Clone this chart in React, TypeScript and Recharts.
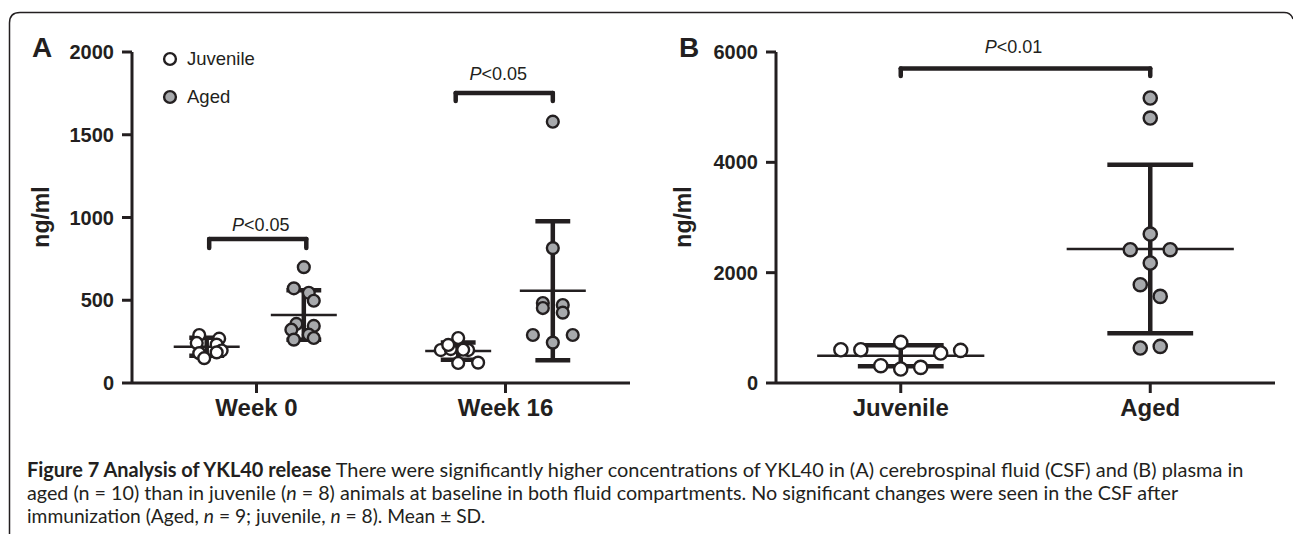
import React from 'react';
import { ScatterChart, Scatter, XAxis, YAxis, ReferenceLine, Legend } from 'recharts';

const INK = '#231f20';
const GREY = '#a7a9ac';
const FONT = '"Liberation Sans", Arial, Helvetica, sans-serif';
const CAPTION_FONT = 'Lato, "Open Sans", sans-serif';

// Panel A - CSF, baseline and after immunization
const weeks = ['Week 0', 'Week 16'];
const csfTicks = [0, 500, 1000, 1500, 2000];
const csfJuvenile = [
  { x: 0.27, y: 290 }, { x: 0.35, y: 268 }, { x: 0.26, y: 242 }, { x: 0.34, y: 232 },
  { x: 0.36, y: 196 }, { x: 0.27, y: 180 }, { x: 0.34, y: 185 }, { x: 0.29, y: 150 },
  { x: 1.31, y: 272 }, { x: 1.24, y: 199 }, { x: 1.28, y: 205 }, { x: 1.35, y: 199 },
  { x: 1.31, y: 121 }, { x: 1.39, y: 123 }, { x: 1.27, y: 230 }, { x: 1.33, y: 201 },
];
const csfAged = [
  { x: 0.69, y: 700 }, { x: 0.65, y: 572 }, { x: 0.71, y: 545 }, { x: 0.73, y: 497 },
  { x: 0.66, y: 357 }, { x: 0.73, y: 345 }, { x: 0.64, y: 322 }, { x: 0.71, y: 292 },
  { x: 0.65, y: 262 }, { x: 0.73, y: 272 },
  { x: 1.69, y: 1579 }, { x: 1.69, y: 815 }, { x: 1.65, y: 483 }, { x: 1.73, y: 471 },
  { x: 1.65, y: 453 }, { x: 1.73, y: 425 }, { x: 1.61, y: 290 }, { x: 1.77, y: 290 },
  { x: 1.69, y: 244 },
];
const csfJuvenileCenter = [0.3, 1.31];
const csfJuvenileMean = [219, 193];
const csfJuvenileSd = [55, 52];
const csfAgedCenter = [0.69, 1.69];
const csfAgedMean = [411, 558];
const csfAgedSd = [150, 420];
const csfSig = [
  { from: 0.31, to: 0.7, top: 870, leg: 815, p: '<0.05' },
  { from: 1.3, to: 1.69, top: 1753, leg: 1704, p: '<0.05' },
];

// Panel B - plasma at baseline
const groups = ['Juvenile', 'Aged'];
const plasmaTicks = [0, 2000, 4000, 6000];
const plasmaJuvenile = [
  { x: 0.26, y: 603 }, { x: 0.34, y: 603 }, { x: 0.5, y: 736 }, { x: 0.66, y: 544 },
  { x: 0.74, y: 591 }, { x: 0.42, y: 314 }, { x: 0.5, y: 254 }, { x: 0.58, y: 283 },
];
const plasmaAged = [
  { x: 1.5, y: 5166 }, { x: 1.5, y: 4803 }, { x: 1.5, y: 2700 }, { x: 1.42, y: 2416 },
  { x: 1.58, y: 2416 }, { x: 1.5, y: 2175 }, { x: 1.46, y: 1782 }, { x: 1.54, y: 1570 },
  { x: 1.46, y: 634 }, { x: 1.54, y: 663 },
];
const plasmaCenter = [0.5, 1.5];
const plasmaMean = [495, 2429];
const plasmaSd = [190, 1525];
const plasmaSig = [{ from: 0.5, to: 1.5, top: 5703, leg: 5565, p: '<0.01' }];

const dot = (fill: string, r: number) => (props: any) =>
  <circle cx={props.cx} cy={props.cy} r={r} fill={fill} stroke={INK} strokeWidth={2.4} />;

// mean line + SD bar with caps, drawn on top of the dots
const meanSd = (cx: number, mean: number, sd: number, meanHalf: number, capHalf: number, key: string) => [
  <ReferenceLine key={key + 'm'} segment={[{ x: cx - meanHalf, y: mean }, { x: cx + meanHalf, y: mean }]} stroke={INK} strokeWidth={2.5} />,
  <ReferenceLine key={key + 'v'} segment={[{ x: cx, y: mean - sd }, { x: cx, y: mean + sd }]} stroke={INK} strokeWidth={4.5} />,
  <ReferenceLine key={key + 't'} segment={[{ x: cx - capHalf, y: mean + sd }, { x: cx + capHalf, y: mean + sd }]} stroke={INK} strokeWidth={4.5} />,
  <ReferenceLine key={key + 'b'} segment={[{ x: cx - capHalf, y: mean - sd }, { x: cx + capHalf, y: mean - sd }]} stroke={INK} strokeWidth={4.5} />,
];

const sigLabel = (p: string, dx: number, lift: number) => (props: any) => {
  const vb = props.viewBox || {};
  return (
    <text x={vb.x + vb.width / 2 + dx} y={vb.y - lift} textAnchor="middle" fill={INK} fontFamily={FONT} fontSize={18}>
      <tspan fontStyle="italic">P</tspan>{p}
    </text>
  );
};

const bracket = (s: any, key: string, dx: number, lift: number) => [
  <ReferenceLine key={key + 'h'} segment={[{ x: s.from, y: s.top }, { x: s.to, y: s.top }]} stroke={INK} strokeWidth={4.5} strokeLinecap="round"
    label={sigLabel(s.p, dx, lift)} />,
  <ReferenceLine key={key + 'l'} segment={[{ x: s.from, y: s.top }, { x: s.from, y: s.leg }]} stroke={INK} strokeWidth={4.5} strokeLinecap="round" />,
  <ReferenceLine key={key + 'r'} segment={[{ x: s.to, y: s.top }, { x: s.to, y: s.leg }]} stroke={INK} strokeWidth={4.5} strokeLinecap="round" />,
];

const legendContent = (props: any) => {
  const items = [...(props.payload || [])].sort((a, b) => groups.indexOf(a.value) - groups.indexOf(b.value));
  return (
    <div style={{ fontFamily: FONT, fontSize: 18.5, color: INK }}>
      {items.map((e: any) => (
        <div key={e.value} style={{ display: 'flex', alignItems: 'center', height: 38 }}>
          <svg width={16} height={16}>
            <circle cx={8} cy={8} r={5.9} fill={e.value === 'Aged' ? GREY : '#fff'} stroke={INK} strokeWidth={2.4} />
          </svg>
          <span style={{ marginLeft: 9 }}>{e.value}</span>
        </div>
      ))}
    </div>
  );
};

// caption line squeezed to the width it has in the figure
function FitLine({ top, width, children }: { top: number; width: number; children: React.ReactNode }) {
  const ref = React.useRef<HTMLSpanElement>(null);
  const [k, setK] = React.useState(1);
  React.useLayoutEffect(() => {
    if (ref.current && ref.current.offsetWidth) setK(width / ref.current.offsetWidth);
  }, [width]);
  return (
    <div style={{ position: 'absolute', left: 26.5, top, whiteSpace: 'nowrap', transformOrigin: '0 0', transform: `scaleX(${k})` }}>
      <span ref={ref}>{children}</span>
    </div>
  );
}

const axisProps = {
  axisLine: { stroke: INK, strokeWidth: 3 },
  tickLine: { stroke: INK, strokeWidth: 3 },
  tickSize: 10,
};
const xTick = { fill: INK, fontSize: 24, fontWeight: 'bold', fontFamily: FONT };
const yTick = { fill: INK, fontSize: 20, fontWeight: 'bold', fontFamily: FONT };
const chartMargin = { top: 52, right: 30, bottom: 27, left: 72 };

export default function App() {
  return (
    <div style={{ position: 'absolute', left: 0, top: 0, width: 1293, height: 534, background: '#fff', overflow: 'hidden' }}>
      <svg width={1293} height={534} style={{ position: 'absolute', left: 0, top: 0 }}>
        <path d="M9.5,534 V23 Q9.5,12.5 20,12.5 H1284 Q1291,12.5 1293,19" fill="none" stroke={INK} strokeWidth={1.5} />
        <text x={32} y={57} fontFamily={FONT} fontWeight="bold" fontSize={28} fill={INK}>A</text>
        <text x={679} y={57} fontFamily={FONT} fontWeight="bold" fontSize={28} fill={INK}>B</text>
        <text transform="translate(49,217) rotate(-90)" textAnchor="middle" fontFamily={FONT} fontWeight="bold" fontSize={23} fill={INK}>ng/ml</text>
        <text transform="translate(691,217) rotate(-90)" textAnchor="middle" fontFamily={FONT} fontWeight="bold" fontSize={23} fill={INK}>ng/ml</text>
      </svg>

      <div style={{ position: 'absolute', left: 0, top: 0, fontFamily: CAPTION_FONT, fontSize: 20, lineHeight: '23px', color: INK }}>
        <FitLine top={458} width={1216}>
          <b>Figure 7 Analysis of YKL40 release</b> There were significantly higher concentrations of YKL40 in (A) cerebrospinal fluid (CSF) and (B) plasma in
        </FitLine>
        <FitLine top={481} width={1151}>
          aged (n = 10) than in juvenile (<i>n</i> = 8) animals at baseline in both fluid compartments. No significant changes were seen in the CSF after
        </FitLine>
        <FitLine top={504} width={458}>
          immunization (Aged, <i>n</i> = 9; juvenile, <i>n</i> = 8). Mean ± SD.
        </FitLine>
      </div>

      <div style={{ position: 'absolute', left: 0, top: 0, fontFamily: FONT }}>
        <ScatterChart width={660} height={440} margin={chartMargin}>
          <XAxis type="number" dataKey="x" domain={[0, 2]} ticks={[0.5, 1.5]} tickFormatter={(v: number) => weeks[Math.floor(v)]}
            tick={xTick} tickMargin={6} height={30} {...axisProps} />
          <YAxis type="number" dataKey="y" domain={[0, 2000]} ticks={csfTicks} interval={0} width={60}
            tick={yTick} tickMargin={8} {...axisProps} />
          <Legend layout="vertical" align="center" verticalAlign="middle" content={legendContent}
            wrapperStyle={{ left: 162, top: 40, width: 'auto' }} />
          <Scatter name="Juvenile" data={csfJuvenile} shape={dot('#fff', 5.9)} isAnimationActive={false} />
          <Scatter name="Aged" data={csfAged} shape={dot(GREY, 5.9)} isAnimationActive={false} />
          {csfJuvenileMean.map((m, i) => meanSd(csfJuvenileCenter[i], m, csfJuvenileSd[i], 0.1325, 0.07, 'aj' + i))}
          {csfAgedMean.map((m, i) => meanSd(csfAgedCenter[i], m, csfAgedSd[i], 0.1325, 0.07, 'aa' + i))}
          {bracket(csfSig[0], 's0', 3, 8.5)}
          {bracket(csfSig[1], 's1', -6, 12.5)}
        </ScatterChart>
      </div>

      <div style={{ position: 'absolute', left: 644, top: 0, fontFamily: FONT }}>
        <ScatterChart width={661} height={440} margin={chartMargin}>
          <XAxis type="number" dataKey="x" domain={[0, 2]} ticks={[0.5, 1.5]} tickFormatter={(v: number) => groups[Math.floor(v)]}
            tick={xTick} tickMargin={6} height={30} {...axisProps} />
          <YAxis type="number" dataKey="y" domain={[0, 6000]} ticks={plasmaTicks} interval={0} width={60}
            tick={yTick} tickMargin={8} {...axisProps} />
          <Scatter name="Juvenile" data={plasmaJuvenile} shape={dot('#fff', 6.6)} isAnimationActive={false} />
          <Scatter name="Aged" data={plasmaAged} shape={dot(GREY, 6.6)} isAnimationActive={false} />
          {plasmaMean.map((m, i) => meanSd(plasmaCenter[i], m, plasmaSd[i], 0.335, 0.172, 'b' + i))}
          {bracket(plasmaSig[0], 'sb', -12, 15)}
        </ScatterChart>
      </div>
    </div>
  );
}
